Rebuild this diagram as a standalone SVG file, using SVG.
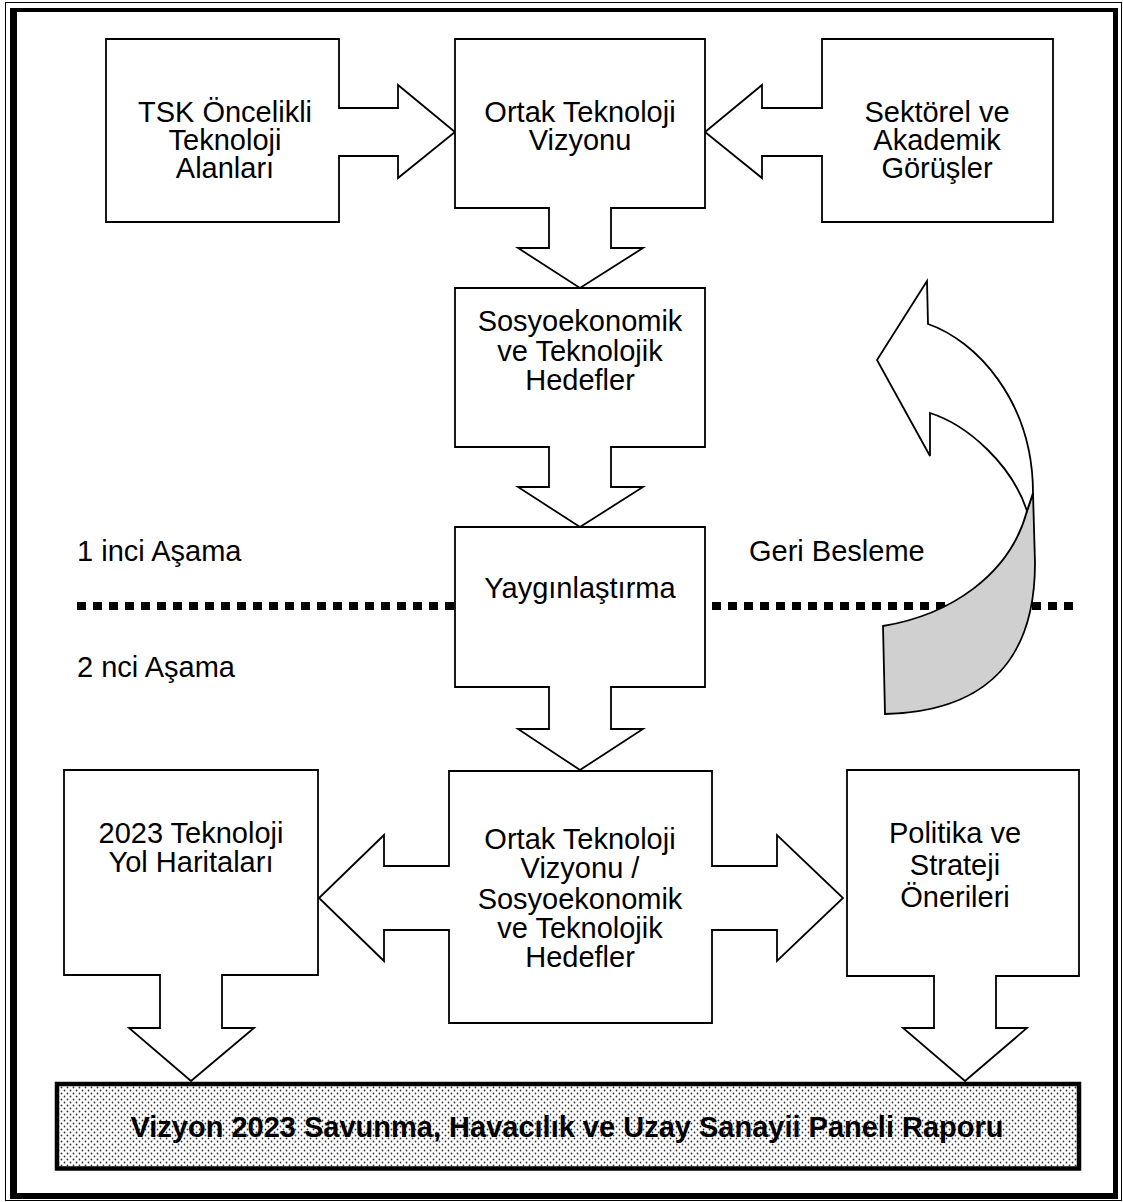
<svg xmlns="http://www.w3.org/2000/svg" width="1123" height="1202" viewBox="0 0 1123 1202">
<style>
.shape{fill:#fff;stroke:#000;stroke-width:1.8;stroke-linejoin:miter}
.t{font-family:"Liberation Sans",Arial,sans-serif;font-size:29px;fill:#000;text-anchor:middle}
.l{font-family:"Liberation Sans",Arial,sans-serif;font-size:29px;fill:#000}
.b{font-family:"Liberation Sans",Arial,sans-serif;font-size:29px;font-weight:bold;fill:#000;text-anchor:middle}
</style>
<defs>
<pattern id="dots" width="6" height="6" patternUnits="userSpaceOnUse">
<rect width="6" height="6" fill="#fff"/>
<circle cx="1.5" cy="1.5" r="0.9" fill="#333"/>
<circle cx="4.5" cy="4.5" r="0.9" fill="#333"/>
</pattern>
</defs>
<rect width="1123" height="1202" fill="#fff"/>
<g id="frame">
<rect x="5.5" y="2.5" width="1116" height="1198" fill="none" stroke="#000" stroke-width="1"/>
<path d="M10,8 H1118 V1199 H10 Z M17,12 V1193 H1113 V12 Z" fill="#000" fill-rule="evenodd"/>
</g>
<g id="stage-line">
<line x1="77" y1="606" x2="455" y2="606" stroke="#000" stroke-width="8" stroke-dasharray="9 7"/>
<line x1="712" y1="606" x2="1078" y2="606" stroke="#000" stroke-width="8" stroke-dasharray="9 7"/>
</g>
<g id="connectors">
<g id="feedback-arrow">
<path d="M1033,493 L1035,563 C1035,670 975,712 885,714 L883,626 C950,615 1010,575 1027,511 Z" fill="#d0d0d0" stroke="#000" stroke-width="1.8"/>
<path d="M928,324 L927,281 L877,360 L930,456 L930,413 C968,425 1012,465 1027,511 L1033,493 C1033,400 975,340 928,324 Z" fill="#fff" stroke="#000" stroke-width="1.8"/>
</g>
</g>
<g id="n-tsk">
<path class="shape" d="M106,39 L339,39 L339,108 L398,108 L398,85 L455,132 L398,178 L398,156 L339,156 L339,222 L106,222 Z"/>
<text class="t" x="225" y="122">TSK Öncelikli</text>
<text class="t" x="225" y="150">Teknoloji</text>
<text class="t" x="225" y="178">Alanları</text>
</g>
<g id="n-sektorel">
<path class="shape" d="M1053,39 L822,39 L822,108 L762,108 L762,85 L705,132 L762,178 L762,156 L822,156 L822,222 L1053,222 Z"/>
<text class="t" x="937" y="122">Sektörel ve</text>
<text class="t" x="937" y="150">Akademik</text>
<text class="t" x="937" y="178">Görüşler</text>
</g>
<g id="n-ortak">
<path class="shape" d="M455,39 L705,39 L705,208 L611,208 L611,248 L643,248 L580,288 L518,248 L549,248 L549,208 L455,208 Z"/>
<text class="t" x="580" y="122">Ortak Teknoloji</text>
<text class="t" x="580" y="150">Vizyonu</text>
</g>
<g id="n-hedefler">
<path class="shape" d="M455,288 L705,288 L705,447 L611,447 L611,487 L643,487 L580,527 L518,487 L549,487 L549,447 L455,447 Z"/>
<text class="t" x="580" y="331">Sosyoekonomik</text>
<text class="t" x="580" y="361">ve Teknolojik</text>
<text class="t" x="580" y="390">Hedefler</text>
</g>
<g id="n-yaygin">
<path class="shape" d="M455,527 L705,527 L705,687 L611,687 L611,729 L643,729 L580,770 L518,729 L549,729 L549,687 L455,687 Z"/>
<text class="t" x="580" y="598">Yaygınlaştırma</text>
</g>
<g id="labels">
<text class="l" x="77" y="561">1 inci Aşama</text>
<text class="l" x="749" y="561">Geri Besleme</text>
<text class="l" x="77" y="677">2 nci Aşama</text>
</g>
<g id="n-center">
<path class="shape" d="M449,771 L712,771 L712,866 L777,866 L777,835 L843,898 L777,961 L777,930 L712,930 L712,1023 L449,1023 L449,930 L384,930 L384,961 L319,898 L384,835 L384,866 L449,866 Z"/>
<text class="t" x="580" y="849">Ortak Teknoloji</text>
<text class="t" x="580" y="878">Vizyonu /</text>
<text class="t" x="580" y="909">Sosyoekonomik</text>
<text class="t" x="580" y="938">ve Teknolojik</text>
<text class="t" x="580" y="967">Hedefler</text>
</g>
<g id="n-yol">
<path class="shape" d="M64,770 L318,770 L318,975 L222,975 L222,1028 L254,1028 L191,1081 L129,1028 L160,1028 L160,975 L64,975 Z"/>
<text class="t" x="191" y="843">2023 Teknoloji</text>
<text class="t" x="191" y="872">Yol Haritaları</text>
</g>
<g id="n-politika">
<path class="shape" d="M847,770 L1079,770 L1079,976 L996,976 L996,1028 L1027,1028 L965,1081 L903,1028 L934,1028 L934,976 L847,976 Z"/>
<text class="t" x="955" y="843">Politika ve</text>
<text class="t" x="955" y="875">Strateji</text>
<text class="t" x="955" y="907">Önerileri</text>
</g>
<g id="n-rapor">
<rect x="57" y="1084" width="1022" height="84.5" fill="url(#dots)" stroke="#000" stroke-width="4.5"/>
<text class="b" x="567" y="1137">Vizyon 2023 Savunma, Havacılık ve Uzay Sanayii Paneli Raporu</text>
</g>
</svg>
